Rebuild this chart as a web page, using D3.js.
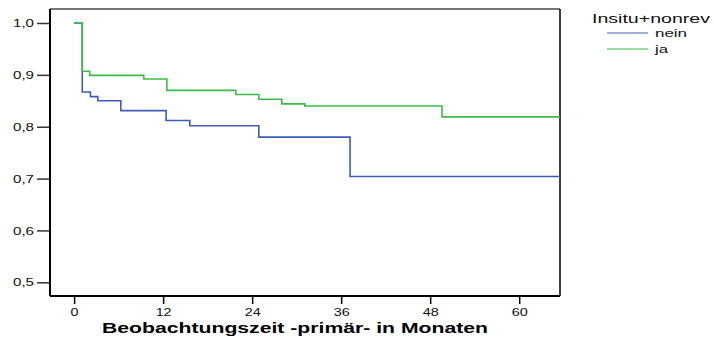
<!DOCTYPE html>
<html><head><meta charset="utf-8">
<script src="https://cdn.jsdelivr.net/npm/d3@7"></script>
<style>body{margin:0;background:#fff}svg{display:block}text{font-family:"Liberation Sans",Arial,sans-serif}</style>
</head><body><svg id="c" width="714" height="338"></svg>
<script>
const xTicks = [0, 12, 24, 36, 48, 60];
const yTicks = [0.5, 0.6, 0.7, 0.8, 0.9, 1.0];
const seriesNames = ["nein", "ja"];
const neinTimes = [0, 1.1, 2.2, 3.2, 6.3, 12.4, 15.6, 24.9, 37.2, 65.5];
const neinSurv  = [1.0, 0.867, 0.858, 0.850, 0.831, 0.812, 0.802, 0.780, 0.704, 0.704];
const jaTimes = [0, 1.1, 2.1, 9.4, 12.5, 21.8, 24.9, 28.0, 31.1, 49.6, 65.5];
const jaSurv  = [1.0, 0.907, 0.899, 0.892, 0.870, 0.862, 0.853, 0.844, 0.840, 0.819, 0.819];
const colors = ["#3f5cb8", "#3dbb48"];

const svg = d3.select("#c");
const L = 50, R = 560, T = 9, B = 296;
const x = d3.scaleLinear().domain([-3.25, 65.5]).range([L, R]);
const y = d3.scaleLinear().domain([0.5, 1.0]).range([282.3, 23]);

// frame
svg.append("line").attr("x1", L).attr("x2", R).attr("y1", T).attr("y2", T).attr("stroke", "#777").attr("stroke-width", 2);
svg.append("line").attr("x1", L).attr("x2", L).attr("y1", T).attr("y2", B).attr("stroke", "#000").attr("stroke-width", 2);
svg.append("line").attr("x1", R).attr("x2", R).attr("y1", T).attr("y2", B).attr("stroke", "#000").attr("stroke-width", 1.5);
svg.append("line").attr("x1", L).attr("x2", R).attr("y1", B).attr("y2", B).attr("stroke", "#000").attr("stroke-width", 2);

// y axis
const fmt = d => d3.format(".1f")(d).replace(".", ",");
const yAx = svg.append("g").attr("transform", `translate(${L - 1},0)`)
  .call(d3.axisLeft(y).tickValues(yTicks).tickFormat(fmt).tickSize(12).tickPadding(3));
yAx.select(".domain").remove();
yAx.selectAll(".tick line").attr("stroke", "#333").attr("stroke-width", 1.5);
yAx.selectAll(".tick text").attr("font-size", 11.5).attr("fill", "#111")
  .attr("font-family", "'Liberation Sans',Arial,sans-serif")
  .attr("textLength", 21).attr("lengthAdjust", "spacingAndGlyphs");

// x axis
const xAx = svg.append("g").attr("transform", `translate(0,${B + 1})`)
  .call(d3.axisBottom(x).tickValues(xTicks).tickSize(7).tickPadding(4));
xAx.select(".domain").remove();
xAx.selectAll(".tick line").attr("stroke", "#000").attr("stroke-width", 1.5);
xAx.selectAll(".tick text").attr("font-size", 11.5).attr("fill", "#111")
  .attr("font-family", "'Liberation Sans',Arial,sans-serif")
  .attr("textLength", d => d === 0 ? 8 : 16).attr("lengthAdjust", "spacingAndGlyphs");

svg.append("text").attr("x", 102).attr("y", 333)
  .attr("font-size", 15.5).attr("font-weight", "bold")
  .attr("textLength", 386).attr("lengthAdjust", "spacingAndGlyphs")
  .text("Beobachtungszeit -primär- in Monaten");

// curves
const line = d3.line().x(d => x(d[0])).y(d => y(d[1])).curve(d3.curveStepAfter);
const series = [d3.zip(neinTimes, neinSurv), d3.zip(jaTimes, jaSurv)];
series.forEach((s, i) => {
  svg.append("path").datum(s).attr("d", line).attr("fill", "none")
    .attr("stroke", colors[i]).attr("stroke-width", 1.6);
});

// legend
svg.append("text").attr("x", 592).attr("y", 23).attr("font-size", 13.5).attr("fill", "#111")
  .attr("textLength", 118).attr("lengthAdjust", "spacingAndGlyphs").text("Insitu+nonrev");
const legW = [32, 13];
seriesNames.forEach((n, i) => {
  const yy = 33 + i * 16;
  svg.append("line").attr("x1", 607).attr("x2", 648).attr("y1", yy).attr("y2", yy)
    .attr("stroke", colors[i]).attr("stroke-width", 1.2);
  svg.append("text").attr("x", 655).attr("y", yy + 4).attr("font-size", 11).attr("fill", "#111")
    .attr("textLength", legW[i]).attr("lengthAdjust", "spacingAndGlyphs").text(n);
});
</script></body></html>
